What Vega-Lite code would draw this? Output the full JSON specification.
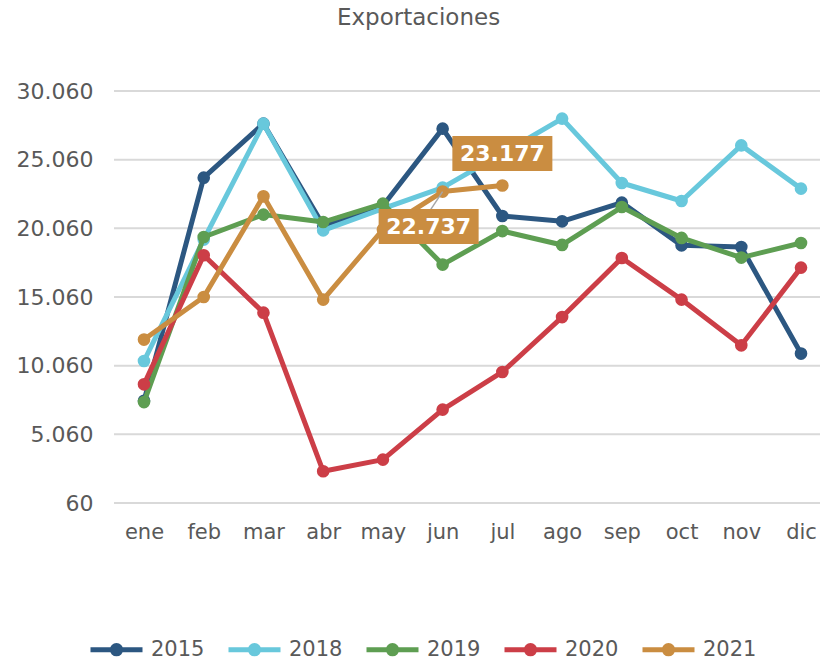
{
  "$schema": "https://vega.github.io/schema/vega-lite/v6.json",
  "width": 706,
  "height": 412,
  "autosize": "none",
  "padding": {"left": 114, "top": 91, "right": 0, "bottom": 161},
  "background": "white",
  "config": {
    "locale": {"number": {"decimal": ",", "thousands": ".", "grouping": [3], "currency": ["", ""]}},
    "view": {"stroke": null},
    "font": "DejaVu Sans"
  },
  "title": {
    "text": "Exportaciones",
    "fontSize": 23,
    "fontWeight": "normal",
    "color": "#595959",
    "frame": "bounds",
    "anchor": "middle",
    "offset": 50
  },
  "datasets": {
    "series": [
      {"mes": "ene", "anio": "2015", "valor": 7500},
      {"mes": "feb", "anio": "2015", "valor": 23750},
      {"mes": "mar", "anio": "2015", "valor": 27680},
      {"mes": "abr", "anio": "2015", "valor": 20280},
      {"mes": "may", "anio": "2015", "valor": 21700},
      {"mes": "jun", "anio": "2015", "valor": 27320},
      {"mes": "jul", "anio": "2015", "valor": 20960},
      {"mes": "ago", "anio": "2015", "valor": 20570},
      {"mes": "sep", "anio": "2015", "valor": 21930},
      {"mes": "oct", "anio": "2015", "valor": 18820},
      {"mes": "nov", "anio": "2015", "valor": 18700},
      {"mes": "dic", "anio": "2015", "valor": 10940},
      {"mes": "ene", "anio": "2018", "valor": 10400},
      {"mes": "feb", "anio": "2018", "valor": 19240},
      {"mes": "mar", "anio": "2018", "valor": 27680},
      {"mes": "abr", "anio": "2018", "valor": 19910},
      {"mes": "may", "anio": "2018", "valor": 21500},
      {"mes": "jun", "anio": "2018", "valor": 23020},
      {"mes": "jul", "anio": "2018", "valor": 25520},
      {"mes": "ago", "anio": "2018", "valor": 28050},
      {"mes": "sep", "anio": "2018", "valor": 23360},
      {"mes": "oct", "anio": "2018", "valor": 22050},
      {"mes": "nov", "anio": "2018", "valor": 26100},
      {"mes": "dic", "anio": "2018", "valor": 22950},
      {"mes": "ene", "anio": "2019", "valor": 7410},
      {"mes": "feb", "anio": "2019", "valor": 19430},
      {"mes": "mar", "anio": "2019", "valor": 21060},
      {"mes": "abr", "anio": "2019", "valor": 20520},
      {"mes": "may", "anio": "2019", "valor": 21860},
      {"mes": "jun", "anio": "2019", "valor": 17420},
      {"mes": "jul", "anio": "2019", "valor": 19860},
      {"mes": "ago", "anio": "2019", "valor": 18850},
      {"mes": "sep", "anio": "2019", "valor": 21610},
      {"mes": "oct", "anio": "2019", "valor": 19360},
      {"mes": "nov", "anio": "2019", "valor": 17930},
      {"mes": "dic", "anio": "2019", "valor": 18990},
      {"mes": "ene", "anio": "2020", "valor": 8700},
      {"mes": "feb", "anio": "2020", "valor": 18100},
      {"mes": "mar", "anio": "2020", "valor": 13920},
      {"mes": "abr", "anio": "2020", "valor": 2370},
      {"mes": "may", "anio": "2020", "valor": 3220},
      {"mes": "jun", "anio": "2020", "valor": 6860},
      {"mes": "jul", "anio": "2020", "valor": 9600},
      {"mes": "ago", "anio": "2020", "valor": 13600},
      {"mes": "sep", "anio": "2020", "valor": 17900},
      {"mes": "oct", "anio": "2020", "valor": 14870},
      {"mes": "nov", "anio": "2020", "valor": 11540},
      {"mes": "dic", "anio": "2020", "valor": 17200},
      {"mes": "ene", "anio": "2021", "valor": 11960},
      {"mes": "feb", "anio": "2021", "valor": 15060},
      {"mes": "mar", "anio": "2021", "valor": 22390},
      {"mes": "abr", "anio": "2021", "valor": 14870},
      {"mes": "may", "anio": "2021", "valor": 19970},
      {"mes": "jun", "anio": "2021", "valor": 22737},
      {"mes": "jul", "anio": "2021", "valor": 23177}
    ],
    "etiquetas": [
      {"mes": "jun", "anio": "2021", "valor": 22737, "pos": "abajo"},
      {"mes": "jul", "anio": "2021", "valor": 23177, "pos": "arriba"}
    ],
    "reticula": [
      {"valor": 60}, {"valor": 5060}, {"valor": 10060}, {"valor": 15060},
      {"valor": 20060}, {"valor": 25060}, {"valor": 30060}
    ]
  },
  "encoding": {
    "x": {
      "field": "mes",
      "type": "ordinal",
      "sort": ["ene", "feb", "mar", "abr", "may", "jun", "jul", "ago", "sep", "oct", "nov", "dic"],
      "scale": {"type": "point", "padding": 0, "range": [30, 687]},
      "axis": {
        "title": null,
        "domain": false,
        "ticks": false,
        "grid": false,
        "labelAngle": 0,
        "labelFontSize": 21,
        "labelColor": "#595959",
        "labelPadding": 18
      }
    },
    "y": {
      "field": "valor",
      "type": "quantitative",
      "scale": {"domain": [60, 30060], "nice": false, "zero": false},
      "axis": {
        "title": null,
        "domain": false,
        "ticks": false,
        "grid": false,
        "values": [60, 5060, 10060, 15060, 20060, 25060, 30060],
        "format": ",.0f",
        "labelFontSize": 22,
        "labelColor": "#595959",
        "labelPadding": 21
      }
    }
  },
  "layer": [
    {
      "data": {"name": "reticula"},
      "mark": {"type": "rule", "color": "#d9d9d9", "strokeWidth": 2},
      "encoding": {"y": {"field": "valor", "type": "quantitative"}, "x": null}
    },
    {
      "data": {"name": "series"},
      "transform": [{"filter": "datum.anio === '2015'"}],
      "mark": {"type": "line", "strokeWidth": 5, "strokeJoin": "round", "point": {"filled": true, "opacity": 1, "size": 160}},
      "encoding": {
        "color": {
          "field": "anio",
          "type": "nominal",
          "scale": {"domain": ["2015", "2018", "2019", "2020", "2021"], "range": ["#2C5781", "#68C8DC", "#5E9E52", "#CC3E47", "#CA8D41"]},
          "legend": {
            "title": null,
            "orient": "none",
            "legendX": -26,
            "legendY": 530,
            "direction": "horizontal",
            "symbolType": "M-1,0L1,0M0.16,0A0.16,0.16,0,1,1,-0.16,0A0.16,0.16,0,1,1,0.16,0Z",
            "symbolSize": 2704,
            "symbolStrokeWidth": 5,
            "labelFontSize": 21,
            "labelColor": "#595959",
            "labelOffset": 6,
            "columnPadding": 13
          }
        }
      }
    },
    {
      "data": {"name": "series"},
      "transform": [{"filter": "datum.anio === '2018'"}],
      "mark": {"type": "line", "strokeWidth": 5, "strokeJoin": "round", "point": {"filled": true, "opacity": 1, "size": 160}},
      "encoding": {"color": {"field": "anio", "type": "nominal"}}
    },
    {
      "data": {"name": "series"},
      "transform": [{"filter": "datum.anio === '2019'"}],
      "mark": {"type": "line", "strokeWidth": 5, "strokeJoin": "round", "point": {"filled": true, "opacity": 1, "size": 160}},
      "encoding": {"color": {"field": "anio", "type": "nominal"}}
    },
    {
      "data": {"name": "series"},
      "transform": [{"filter": "datum.anio === '2020'"}],
      "mark": {"type": "line", "strokeWidth": 5, "strokeJoin": "round", "point": {"filled": true, "opacity": 1, "size": 160}},
      "encoding": {"color": {"field": "anio", "type": "nominal"}}
    },
    {
      "data": {"name": "series"},
      "transform": [{"filter": "datum.anio === '2021'"}],
      "mark": {"type": "line", "strokeWidth": 5, "strokeJoin": "round", "point": {"filled": true, "opacity": 1, "size": 160}},
      "encoding": {"color": {"field": "anio", "type": "nominal"}}
    },
    {
      "data": {"name": "etiquetas"},
      "transform": [{"filter": "datum.pos === 'abajo'"}],
      "mark": {"type": "rule", "color": "#a6a6a6", "strokeWidth": 1.5, "x2Offset": -12, "y2Offset": 18},
      "encoding": {
        "x2": {"field": "mes"},
        "y2": {"field": "valor"}
      }
    },
    {
      "data": {"name": "etiquetas"},
      "transform": [{"filter": "datum.pos === 'arriba'"}],
      "mark": {"type": "point", "shape": "M-1,-0.35H1V0.35H-1Z", "size": 10000, "filled": true, "opacity": 1, "color": "#CA8D41", "yOffset": -32}
    },
    {
      "data": {"name": "etiquetas"},
      "transform": [{"filter": "datum.pos === 'abajo'"}],
      "mark": {"type": "point", "shape": "M-1,-0.35H1V0.35H-1Z", "size": 10000, "filled": true, "opacity": 1, "color": "#CA8D41", "xOffset": -14, "yOffset": 35}
    },
    {
      "data": {"name": "etiquetas"},
      "transform": [{"filter": "datum.pos === 'arriba'"}],
      "mark": {"type": "text", "color": "white", "fontSize": 22, "fontWeight": "bold", "baseline": "middle", "dy": -32},
      "encoding": {"text": {"field": "valor", "type": "quantitative", "format": ",.0f"}}
    },
    {
      "data": {"name": "etiquetas"},
      "transform": [{"filter": "datum.pos === 'abajo'"}],
      "mark": {"type": "text", "color": "white", "fontSize": 22, "fontWeight": "bold", "baseline": "middle", "dx": -14, "dy": 35},
      "encoding": {"text": {"field": "valor", "type": "quantitative", "format": ",.0f"}}
    }
  ]
}
